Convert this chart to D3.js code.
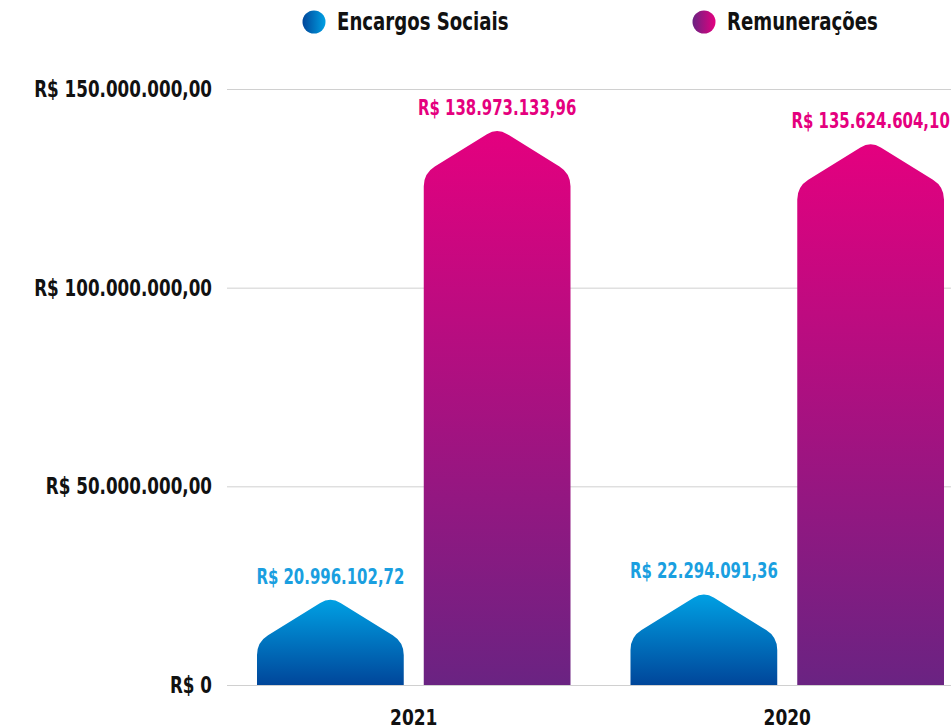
<!DOCTYPE html>
<html>
<head>
<meta charset="utf-8">
<script src="https://cdn.jsdelivr.net/npm/d3@7"></script>
<style>
  body { margin: 0; background: #fff; }
  svg { display: block; font-family: "DejaVu Sans Condensed", "DejaVu Sans", sans-serif; font-weight: bold; }
  .grid line { stroke: #d0d0d0; }
  .grid .domain { display: none; }
</style>
</head>
<body>
<svg width="951" height="727"></svg>
<script>
const width = 951,
  height = 727

let years = ['2021', '2020']
let series = ['Encargos Sociais', 'Remunerações']
let encargos = [20996102.72, 22294091.36]
let remuneracoes = [138973133.96, 135624604.10]
let valueLabels = [
  ['R$ 20.996.102,72', 'R$ 138.973.133,96'],
  ['R$ 22.294.091,36', 'R$ 135.624.604,10']
]
let yTicks = [0, 50000000, 100000000, 150000000]
let yTickLabels = ['R$ 0', 'R$ 50.000.000,00', 'R$ 100.000.000,00', 'R$ 150.000.000,00']

let colors = {
  'Encargos Sociais': { light: '#00a0e3', dark: '#00469a', text: '#1a9fe0' },
  'Remunerações': { light: '#e4007f', dark: '#6a2382', text: '#e5007e' }
}

let rows = years.map((year, i) => ({
  year,
  bars: [
    { key: series[0], value: encargos[i], label: valueLabels[i][0] },
    { key: series[1], value: remuneracoes[i], label: valueLabels[i][1] }
  ]
}))

let svg = d3.select('svg')

// squeeze text horizontally, the original uses a condensed face
function condense(sel, k) {
  sel.each(function() {
    let len = this.getComputedTextLength()
    d3.select(this)
      .attr('textLength', len * k)
      .attr('lengthAdjust', 'spacingAndGlyphs')
  })
}

let x0 = d3.scaleBand().domain(years).range([227, 974])
let x1 = d3.scaleBand().domain(series).range([30, x0.bandwidth() - 30]).paddingInner(0.12)
let y = d3.scaleLinear().domain([0, 150000000]).range([685, 89])

// gradients
let defs = svg.append('defs')
series.forEach((s, i) => {
  let g = defs.append('linearGradient')
    .attr('id', `bar-${i}`)
    .attr('x1', 0).attr('y1', 0).attr('x2', 0).attr('y2', 1)
  g.append('stop').attr('offset', '0%').attr('stop-color', colors[s].light)
  g.append('stop').attr('offset', '100%').attr('stop-color', colors[s].dark)

  let l = defs.append('linearGradient')
    .attr('id', `dot-${i}`)
    .attr('x1', 0).attr('y1', 0).attr('x2', 1).attr('y2', 0)
  l.append('stop').attr('offset', '0%').attr('stop-color', colors[s].dark)
  l.append('stop').attr('offset', '100%').attr('stop-color', colors[s].light)
})

// gridlines
svg.append('g')
  .attr('class', 'grid')
  .attr('transform', 'translate(227,0)')
  .call(d3.axisLeft(y).tickValues(yTicks).tickSize(-(width - 227)).tickFormat(''))

svg.append('g')
  .selectAll('text')
  .data(yTicks)
  .join('text')
    .attr('x', 212)
    .attr('y', d => y(d) + 8)
    .attr('text-anchor', 'end')
    .attr('font-size', 23)
    .attr('fill', '#111')
    .text((d, i) => yTickLabels[i])
    .call(condense, 0.81)

// bar with pointed top
let slope = 0.62
function peakBar(x, w, yTip, yBase) {
  let half = w / 2,
    yShoulder = yTip + half * slope,
    r = 13, rt = 12,
    len = Math.sqrt(1 + slope * slope),
    dx = 1 / len, dy = slope / len,
    cx = x + half
  let p = d3.path()
  p.moveTo(x, yBase)
  p.lineTo(x, yShoulder + r)
  p.quadraticCurveTo(x, yShoulder, x + r * dx, yShoulder - r * dy)
  p.lineTo(cx - rt * dx, yTip + rt * dy)
  p.quadraticCurveTo(cx, yTip, cx + rt * dx, yTip + rt * dy)
  p.lineTo(x + w - r * dx, yShoulder - r * dy)
  p.quadraticCurveTo(x + w, yShoulder, x + w, yShoulder + r)
  p.lineTo(x + w, yBase)
  p.closePath()
  return p.toString()
}

let groups = svg.append('g')
  .selectAll('g')
  .data(rows)
  .join('g')
    .attr('transform', d => `translate(${x0(d.year)},0)`)

groups.selectAll('path')
  .data(d => d.bars)
  .join('path')
    .attr('fill', (d, i) => `url(#bar-${i})`)
    .attr('d', d => peakBar(x1(d.key), x1.bandwidth(), y(d.value) - 5, y(0)))

groups.selectAll('text.value')
  .data(d => d.bars)
  .join('text')
    .attr('class', 'value')
    .attr('x', d => x1(d.key) + x1.bandwidth() / 2)
    .attr('y', d => y(d.value) - 18)
    .attr('text-anchor', 'middle')
    .attr('font-size', 21)
    .attr('fill', d => colors[d.key].text)
    .text(d => d.label)
    .call(condense, 0.79)

// x axis labels
svg.append('g')
  .selectAll('text')
  .data(years)
  .join('text')
    .attr('x', d => x0(d) + x0.bandwidth() / 2)
    .attr('y', 725)
    .attr('text-anchor', 'middle')
    .attr('font-size', 21)
    .attr('fill', '#111')
    .text(d => d)
    .call(condense, 0.9)

// legend
let legendX = [314, 704]
let legend = svg.append('g')
  .selectAll('g')
  .data(series)
  .join('g')
    .attr('transform', (d, i) => `translate(${legendX[i]},22)`)

legend.append('circle')
  .attr('r', 11.5)
  .attr('fill', (d, i) => `url(#dot-${i})`)

legend.append('text')
  .attr('x', 23)
  .attr('y', 8)
  .attr('font-size', 24)
  .attr('fill', '#111')
  .text(d => d)
  .call(condense, 0.84)
</script>
</body>
</html>
